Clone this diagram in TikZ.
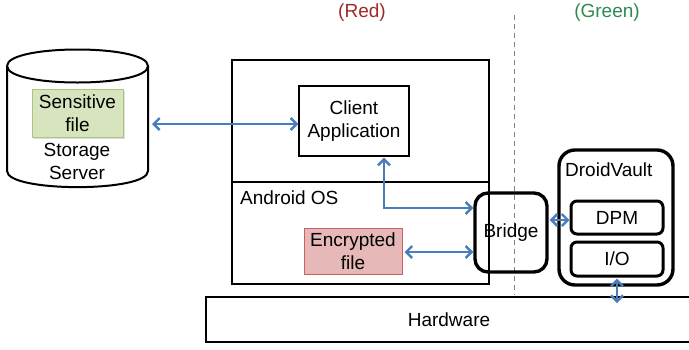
\documentclass[tikz,border=0pt]{standalone}
\usepackage{fontspec}
\setmainfont{Liberation Sans}
\usetikzlibrary{arrows.meta,shadows}
\definecolor{arrblue}{HTML}{4A7EBB}
\definecolor{gfill}{HTML}{D7E4BD}
\definecolor{gline}{HTML}{A9C47F}
\definecolor{rfill}{HTML}{E6B9B8}
\definecolor{rline}{HTML}{C9615E}
\definecolor{redlbl}{HTML}{A0282A}
\definecolor{greenlbl}{HTML}{2E8B4E}
\begin{document}
\begin{tikzpicture}[x=1pt,y=-1pt,
  every node/.style={font=\fontsize{19}{23}\selectfont, align=center, inner sep=0pt},
  plainbox/.style={draw, line width=1.3pt},
  thickbox/.style={draw, line width=3.4pt, rounded corners=13pt},
  innerbox/.style={draw, line width=3pt, rounded corners=6pt, minimum width=92pt, minimum height=33pt},
  arr/.style={draw=arrblue, line width=2.4pt, {Straight Barb[length=6pt,width=12pt]}-{Straight Barb[length=6pt,width=12pt]}},
  lbl/.style={anchor=west}
]
\useasboundingbox (0,0) rectangle (689,349);

% dashed separator
\draw[gray, line width=1pt, dash pattern=on 5pt off 4pt] (514,15) -- (514,295);

% colour labels
\node (red) [text=redlbl] at (362,13) {(Red)};
\node (green) [text=greenlbl] at (607,13) {(Green)};

% storage server cylinder
\draw[line width=2pt, fill=white] (7,66) -- (7,171) .. controls (7,192.5) and (148,192.5) .. (148,171) -- (148,66);
\draw[line width=2pt] (7,66) .. controls (7,44) and (148,44) .. (148,66) .. controls (148,88) and (7,88) .. (7,66);
\node (sens) [draw=gline, line width=1pt, fill=gfill, minimum width=91pt, minimum height=48pt,
  drop shadow={shadow xshift=1.5pt, shadow yshift=-1.5pt, opacity=0.25}] at (77.5,113) {Sensitive\\file};
\node (storage) at (77,161) {Storage\\Server};
\coordinate (srv) at (152,124);

% Android box
\node (android) [draw, line width=2pt, minimum width=257pt, minimum height=224pt] at (360.5,172) {};
\draw[line width=1.3pt] (android.west |- 0,182) -- (android.east |- 0,182);
\node (aos) [lbl] at (240,198) {Android OS};
\node (client) [plainbox, minimum width=110pt, minimum height=70pt] at (354,121) {Client\\Application};
\node (enc) [draw=rline, line width=1pt, fill=rfill, minimum width=98pt, minimum height=46pt] at (353,251) {Encrypted\\file};

% Bridge
\node (bridge) [thickbox, minimum width=72pt, minimum height=79pt] at (511,232.5) {Bridge};

% DroidVault
\node (dv) [thickbox, rounded corners=16pt, minimum width=114pt, minimum height=135pt] at (616,217.5) {};
\node (dvl) [lbl] at (565,170) {DroidVault};
\node (dpm) [innerbox] at (617,217.5) {DPM};
\node (io) [innerbox, minimum height=34pt] at (617,259) {I/O};

% Hardware
\node (hw) [draw, line width=1.7pt, minimum width=486pt, minimum height=45pt] at (449,319.5) {Hardware};

% connectors
\draw[arr] (srv) -- (srv -| client.west);
\draw[arr] (client.south -| 384,0) ++(0,1) |- (bridge.west |- 0,208);
\draw[arr] (enc.east |- 0,252) ++(2,0) -- (bridge.west |- 0,252);
\draw[arr] (bridge.east |- 0,220) ++(1,0) -- (dpm.west |- 0,220);
\draw[arr] (io.south) ++(0,1) -- (io.south |- 0,303);
\end{tikzpicture}
\end{document}
